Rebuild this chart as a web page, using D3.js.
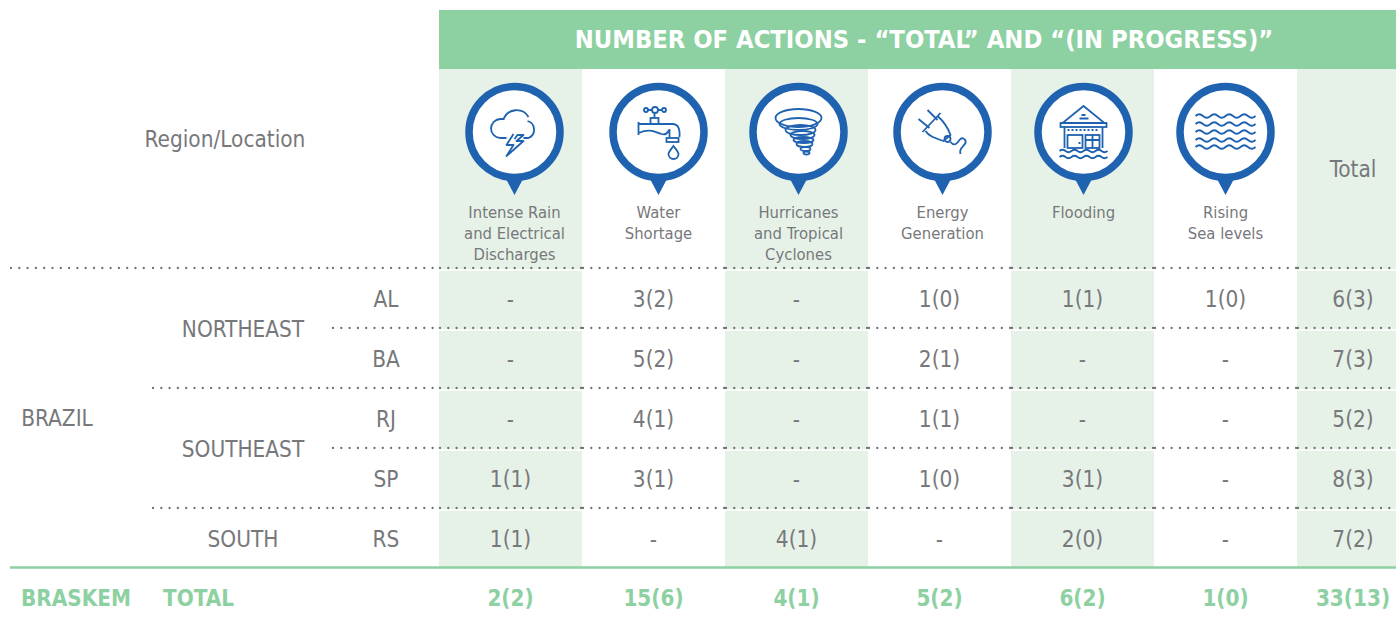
<!DOCTYPE html>
<html>
<head>
<meta charset="utf-8">
<script src="https://cdnjs.cloudflare.com/ajax/libs/d3/7.8.5/d3.min.js"></script>
<style>
  html, body { margin: 0; padding: 0; background: #fff; overflow: hidden; }
  text { font-family: "DejaVu Sans Condensed", "DejaVu Sans", sans-serif; }
</style>
</head>
<body>
<svg id="chart"></svg>
<script>
// --- 1. Data ---

const title = "NUMBER OF ACTIONS - “TOTAL” AND “(IN PROGRESS)”";
const hazards = ["Intense Rain and Electrical Discharges", "Water Shortage", "Hurricanes and Tropical Cyclones", "Energy Generation", "Flooding", "Rising Sea levels"];
const hazardLabels = [
    ["Intense Rain", "and Electrical", "Discharges"],
    ["Water", "Shortage"],
    ["Hurricanes", "and Tropical", "Cyclones"],
    ["Energy", "Generation"],
    ["Flooding"],
    ["Rising", "Sea levels"]
];
const states = ["AL", "BA", "RJ", "SP", "RS"];
const regions = ["NORTHEAST", "SOUTHEAST", "SOUTH"];
const regionStates = [["AL", "BA"], ["RJ", "SP"], ["RS"]];

// one array per hazard, same order as states
const intenseRain = ["-", "-", "-", "1(1)", "1(1)"];
const waterShortage = ["3(2)", "5(2)", "4(1)", "3(1)", "-"];
const hurricanes = ["-", "-", "-", "-", "4(1)"];
const energyGeneration = ["1(0)", "2(1)", "1(1)", "1(0)", "-"];
const flooding = ["1(1)", "-", "-", "3(1)", "2(0)"];
const risingSea = ["1(0)", "-", "-", "-", "-"];
const stateTotals = ["6(3)", "7(3)", "5(2)", "8(3)", "7(2)"];
const hazardTotals = ["2(2)", "15(6)", "4(1)", "5(2)", "6(2)", "1(0)"];
const grandTotal = "33(13)";

// --- 2. Setup ---

const width = 1396;
const height = 622;
const headerGreen = "#8dd0a1";
const paleGreen = "#e6f2e7";
const textGray = "#77787b";
const pinBlue = "#1f62b0";
const bodySize = 22.4;

const svg = d3.select("#chart").attr("width", width).attr("height", height);

const x = d3.scaleBand().domain(hazards).range([439, 1297]);
const xTotal = 1353;
const y = d3.scalePoint().domain(states).range([299, 539]);
const rowStep = y.step();
const iconShift = [4, 5, 2, 3, 1, 0];

// --- 3. Background bands ---

svg.append("rect").attr("x", 439).attr("y", 10).attr("width", width - 439).attr("height", 59).attr("fill", headerGreen);

svg.append("g").selectAll("rect")
    .data(hazards.filter((d, i) => i % 2 === 0))
    .enter().append("rect")
    .attr("x", d => x(d)).attr("y", 69)
    .attr("width", x.bandwidth()).attr("height", 498)
    .attr("fill", paleGreen);
svg.append("rect").attr("x", 1297).attr("y", 69).attr("width", 99).attr("height", 498).attr("fill", paleGreen);

svg.append("text").attr("x", 924).attr("y", 48).attr("text-anchor", "middle")
    .attr("fill", "#fff").attr("font-size", 25.3).attr("font-weight", "bold").text(title);

// --- 4. Rules ---

// the dotted rules restart at every table cell edge, which doubles a dot there
const cellEdges = [10, 152, 332, 439, 582, 725, 868, 1011, 1154, 1297, 1396];
const rules = [[10, y("AL") - rowStep / 2], [332, y("AL") + rowStep / 2], [152, y("BA") + rowStep / 2], [332, y("RJ") + rowStep / 2], [152, y("SP") + rowStep / 2]];
rules.forEach(r => {
    svg.append("line").attr("x1", r[0]).attr("x2", width).attr("y1", r[1] + 1).attr("y2", r[1] + 1)
        .attr("stroke", "#fff").attr("stroke-width", 1.5);
    const edges = cellEdges.filter(e => e >= r[0]);
    d3.pairs(edges).forEach(p => {
        svg.append("line").attr("x1", p[0] + 1).attr("x2", p[1]).attr("y1", r[1] - 1).attr("y2", r[1] - 1)
            .attr("stroke", "#6f7073").attr("stroke-width", 2.3)
            .attr("stroke-linecap", "round").attr("stroke-dasharray", "0 8.3");
    });
});
svg.append("line").attr("x1", 10).attr("x2", width).attr("y1", 567.5).attr("y2", 567.5)
    .attr("stroke", headerGreen).attr("stroke-width", 2.5);

// --- 5. Icons ---

function wave(xStart, yy, periods, len, amp) {
    let s = `M${xStart},${yy} q${len / 4},${-amp * 2} ${len / 2},0`;
    for (let i = 0; i < periods * 2 - 1; i++) s += ` t${len / 2},0`;
    return s;
}

const iconDraw = [
    function (g) { // cloud and lightning
        g.append("path").attr("d", "M-8,6 H-14 A9.5,9.5 0 0 1 -14,-13 H-10 M-11,-13 A14,14 0 0 1 14,-15 M13,-11 A9,9 0 0 1 14,6 H9");
        g.append("path").attr("d", "M-1,2 L-8,13 L-1,13 L-8,24 L9,9 L2,9 L9,3 H3 L0,7").attr("stroke-linejoin", "round");
    },
    function (g) { // tap
        g.append("path").attr("d", "M-20,-10 V3 M-20,-8 H14 Q22,-8 21,5 M-20,1 C-8,-4 -4,0 3,2 C10,4 9,-2 11,-2 V5");
        g.append("rect").attr("x", 8).attr("y", 6).attr("width", 12).attr("height", 4);
        g.append("rect").attr("x", -8).attr("y", -14).attr("width", 8).attr("height", 6);
        g.append("path").attr("d", "M-4,-14 V-19 M-11,-22 H3");
        [[-12.5, 2], [-3.5, 3], [5.5, 2]].forEach(c => g.append("circle").attr("cx", c[0]).attr("cy", -22).attr("r", c[1]).attr("fill", "#fff"));
        g.append("path").attr("d", "M15,14 C12,18 10,20 10,22 A5,5 0 0 0 20,22 C20,20 18,18 15,14 Z");
    },
    function (g) { // tornado
        [[0, -14, 23, 9], [0, -8, 19, 6], [2, -2, 15, 5], [4, 3, 12, 4], [5, 8, 10, 3], [6, 12, 8, 3], [7, 17, 5, 2], [8, 21, 3, 1.5]].forEach(e =>
            g.append("ellipse").attr("cx", e[0]).attr("cy", e[1]).attr("rx", e[2]).attr("ry", e[3]));
    },
    function (g) { // plug
        g.append("path").attr("d", "M-24,-13 L-13,-4 M-15,-22 L-5,-12 M-20,0 L-2,-19 M-17,-1 C-14,4 -8,6 1,9 L8,3 C6,-3 3,-9 -5,-16");
        g.append("circle").attr("cx", 5).attr("cy", 7).attr("r", 3);
        g.append("path").attr("d", "M8,10 C12,15 15,11 17,8 C20,4 24,8 23,11 C21,15 16,16 18,22");
    },
    function (g) { // flooded house
        g.append("path").attr("d", "M0,-26 L-21,-9 H21 Z");
        g.append("rect").attr("x", -23).attr("y", -9).attr("width", 46).attr("height", 4);
        g.append("path").attr("d", "M-19,-5 V16 M19,-5 V16");
        g.append("path").attr("d", "M-16,-2 H16").attr("stroke-dasharray", "2 2");
        g.append("rect").attr("x", -16).attr("y", 3).attr("width", 15).attr("height", 13);
        g.append("rect").attr("x", 2).attr("y", 3).attr("width", 14).attr("height", 13);
        g.append("path").attr("d", "M9,3 V16 M2,8 H16 M-5,11 H-3 M-2,-17 H2 M-4,-13.5 H5");
        g.append("path").attr("d", wave(-24, 19, 4, 12, 1.2));
        g.append("path").attr("d", wave(-24, 25, 4, 12, 1.2));
    },
    function (g) { // rising sea
        [-16, -8, 0, 8, 15].forEach(yy => g.append("path").attr("d", wave(-30, yy, 4, 15, 1.8)));
    }
];

const pins = svg.append("g").selectAll("g")
    .data(hazards)
    .enter().append("g")
    .attr("transform", (d, i) => `translate(${x(d) + x.bandwidth() / 2 + iconShift[i]},132)`);

pins.append("path").attr("d", "M-9,46 L0,63 L9,46 Z").attr("fill", pinBlue);
pins.append("circle").attr("r", 45.5).attr("fill", "#fff").attr("stroke", pinBlue).attr("stroke-width", 7.5);
pins.append("g")
    .attr("fill", "none").attr("stroke", pinBlue).attr("stroke-width", 1.8)
    .each(function (d, i) { iconDraw[i](d3.select(this)); });

// --- 6. Labels ---

svg.append("g").selectAll("text")
    .data(hazardLabels)
    .enter().append("text")
    .attr("text-anchor", "middle").attr("fill", textGray).attr("font-size", 16.5)
    .attr("transform", (d, i) => `translate(${x(hazards[i]) + x.bandwidth() / 2 + iconShift[i]},218)`)
    .selectAll("tspan")
    .data(d => d)
    .enter().append("tspan")
    .attr("x", 0).attr("y", (d, i) => i * 21).text(d => d);

function label(tx, ty, txt, anchor, size) {
    return svg.append("text").attr("x", tx).attr("y", ty).attr("text-anchor", anchor || "middle")
        .attr("dy", "0.36em").attr("fill", textGray).attr("font-size", size || bodySize).text(txt);
}

label(225, 139, "Region/Location");
label(1353, 169, "Total");
label(57, 418, "BRAZIL");

regions.forEach((r, i) => {
    const ys = regionStates[i].map(s => y(s));
    label(243, d3.mean(ys), r);
});
states.forEach(s => label(386, y(s), s));

// --- 7. Values ---

const seriesList = [intenseRain, waterShortage, hurricanes, energyGeneration, flooding, risingSea];
seriesList.forEach((series, c) => {
    svg.append("g").selectAll("text")
        .data(series)
        .enter().append("text")
        .attr("x", x(hazards[c]) + x.bandwidth() / 2)
        .attr("y", (d, i) => y(states[i]))
        .attr("dy", "0.36em").attr("text-anchor", "middle")
        .attr("fill", textGray).attr("font-size", bodySize)
        .text(d => d);
});

svg.append("g").selectAll("text")
    .data(stateTotals)
    .enter().append("text")
    .attr("x", xTotal).attr("y", (d, i) => y(states[i]))
    .attr("dy", "0.36em").attr("text-anchor", "middle")
    .attr("fill", textGray).attr("font-size", bodySize)
    .text(d => d);

// --- 8. Total row ---

function totalLabel(tx, txt, anchor) {
    svg.append("text").attr("x", tx).attr("y", 598).attr("dy", "0.36em")
        .attr("text-anchor", anchor || "middle").attr("fill", headerGreen)
        .attr("font-size", 22.3).attr("font-weight", "bold").text(txt);
}
totalLabel(21, "BRASKEM", "start");
totalLabel(163, "TOTAL", "start");
hazardTotals.forEach((t, i) => totalLabel(x(hazards[i]) + x.bandwidth() / 2, t));
totalLabel(xTotal, grandTotal);
</script>
</body>
</html>
